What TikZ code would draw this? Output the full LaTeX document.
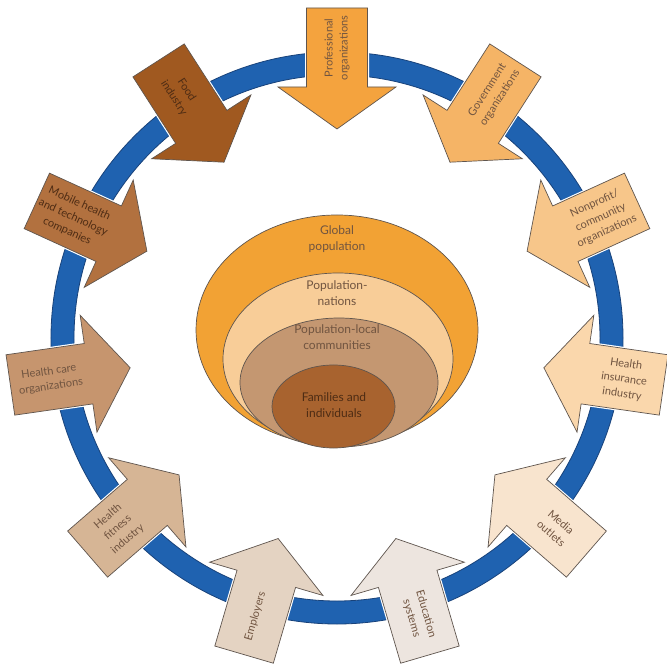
\documentclass[tikz,border=0pt]{standalone}
\usepackage{fontspec}
\setmainfont{Lato}
\usetikzlibrary{positioning}

\definecolor{ringblue}{RGB}{31,98,176}
\definecolor{ringedge}{RGB}{24,66,122}
\definecolor{edgegray}{RGB}{95,85,78}
\definecolor{txtbrown}{RGB}{112,84,64}
\definecolor{darkbrown}{RGB}{78,44,20}
\definecolor{cProf}{RGB}{244,163,62}
\definecolor{cGov}{RGB}{245,180,102}
\definecolor{cNonprof}{RGB}{247,198,138}
\definecolor{cInsur}{RGB}{250,215,172}
\definecolor{cMedia}{RGB}{248,228,206}
\definecolor{cEdu}{RGB}{237,229,223}
\definecolor{cEmploy}{RGB}{228,211,194}
\definecolor{cFitness}{RGB}{214,181,149}
\definecolor{cCare}{RGB}{198,149,110}
\definecolor{cMobile}{RGB}{178,113,63}
\definecolor{cFood}{RGB}{160,89,32}
\definecolor{cGlobal}{RGB}{242,162,52}
\definecolor{cNations}{RGB}{248,205,152}
\definecolor{cLocal}{RGB}{196,151,113}
\definecolor{cFamily}{RGB}{168,99,47}

\begin{document}
\begin{tikzpicture}[x=1pt, y=1pt,
    infl/.style={draw=edgegray, line width=0.7pt, line join=miter,
      preaction={draw=white, line width=3pt}},
    arrowbody/.style={insert path={(330,-30.5) -- (251,-30.5) -- (251,-59)
      -- (209,0) -- (251,59) -- (251,30.5) -- (330,30.5) -- cycle}},
    lbl/.style={text=txtbrown, align=center, inner sep=0pt,
      font=\fontsize{11}{15}\selectfont},
    layer/.style={draw=edgegray, line width=0.7pt},
    inlbl/.style={text=txtbrown, align=center, inner sep=0pt,
      font=\fontsize{12}{15.5}\selectfont}]
  \useasboundingbox (-337,-330) rectangle (329,338);

  % ring
  \draw[ringblue, line width=23pt] (0,0) circle (274.5);
  \draw[ringedge, line width=0.8pt] (0,0) circle (286) (0,0) circle (263);

  % nested populations
  \draw[layer, fill=cGlobal] (0,8) ellipse (141 and 115);
  \draw[layer, fill=cNations] (1,-21) ellipse (115 and 86);
  \draw[layer, fill=cLocal] (2,-44.5) ellipse (99 and 64.5);
  \draw[layer, fill=cFamily] (-3.5,-68.5) ellipse (61.5 and 41.5);
  \node[inlbl] (global) at (0,99) {Global\\population};
  \node[inlbl] (nations) at (0,45) {Population-\\nations};
  \node[inlbl] (local) at (0,1) {Population-local\\communities};
  \node[inlbl, text=darkbrown] (families) at (-3,-67) {Families and\\individuals};

  % influences
  \draw[infl, fill=cProf, rotate=90, arrowbody];
  \node[lbl, rotate=90] (prof) at (90:290) {Professional\\organizations};
  \draw[infl, fill=cGov, rotate=57.27, arrowbody];
  \node[lbl, rotate=57.27] (gov) at (57.27:290) {Government\\organizations};
  \draw[infl, fill=cNonprof, rotate=24.55, arrowbody];
  \node[lbl, rotate=24.55] (nonprof) at (24.55:290) {Nonprofit/\\community\\organizations};
  \draw[infl, fill=cInsur, rotate=-8.18, arrowbody];
  \node[lbl, rotate=-8.18] (insur) at (-8.18:290) {Health\\insurance\\industry};
  \draw[infl, fill=cMedia, rotate=-40.91, arrowbody];
  \node[lbl, rotate=-40.91] (media) at (-40.91:290) {Media\\outlets};
  \draw[infl, fill=cEdu, rotate=-73.64, arrowbody];
  \node[lbl, rotate=-73.64] (edu) at (-73.64:290) {Education\\systems};
  \draw[infl, fill=cEmploy, rotate=-106.36, arrowbody];
  \node[lbl, rotate=73.64] (employ) at (-106.36:290) {Employers};
  \draw[infl, fill=cFitness, rotate=-139.09, arrowbody];
  \node[lbl, rotate=40.91] (fitness) at (-139.09:290) {Health\\fitness\\industry};
  \draw[infl, fill=cCare, rotate=-171.82, arrowbody];
  \node[lbl, rotate=8.18] (care) at (-171.82:290) {Health care\\organizations};
  \draw[infl, fill=cMobile, rotate=155.45, arrowbody];
  \node[lbl, rotate=-24.55, text=darkbrown] (mobile) at (155.45:290) {Mobile health\\and technology\\companies};
  \draw[infl, fill=cFood, rotate=122.73, arrowbody];
  \node[lbl, rotate=-57.27, text=darkbrown] (food) at (122.73:290) {Food\\industry};
\end{tikzpicture}
\end{document}
